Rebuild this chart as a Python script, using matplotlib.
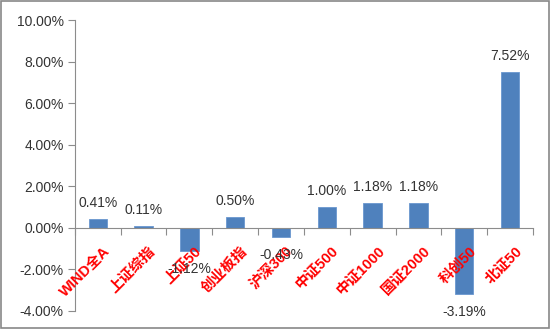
import matplotlib.pyplot as plt
from matplotlib.patches import Rectangle
from matplotlib.transforms import ScaledTranslation
import numpy as np

# index names and weekly change (%)
names = ['WIND全A', '上证综指', '上证50', '创业板指', '沪深300',
         '中证500', '中证1000', '国证2000', '科创50', '北证50']
changes = [0.41, 0.11, -1.12, 0.50, -0.43, 1.00, 1.18, 1.18, -3.19, 7.52]
y_ticks = [-4, -2, 0, 2, 4, 6, 8, 10]

fig = plt.figure(figsize=(5.5, 3.29), dpi=100)
ax = fig.add_axes([0.136, 0.055, 0.833, 0.884])

x = np.arange(len(names))
ax.bar(x, changes, width=0.4, color='#4F81BD', edgecolor='#6A97CF', linewidth=0.6, zorder=2)

ax.set_xlim(-0.5, len(names) - 0.5)
ax.set_ylim(-4, 10)
ax.set_yticks(y_ticks)
ax.set_yticklabels([f'{v:.2f}%' for v in y_ticks], fontsize=10,
                   family='Liberation Sans', color='#333333')

# axis lines: y on the left, x through zero
for side in ['top', 'right']:
    ax.spines[side].set_visible(False)
ax.spines['left'].set_color('#8C8C8C')
ax.spines['bottom'].set_color('#8C8C8C')
ax.spines['bottom'].set_position(('data', 0))
ax.tick_params(axis='y', length=5, color='#8C8C8C', pad=3)
ax.set_xticks(np.arange(len(names) + 1) - 0.5)
ax.set_xticklabels([])
ax.tick_params(axis='x', length=5, color='#8C8C8C', direction='out')

# category names, rotated under the zero line
for i, name in enumerate(names):
    off = ScaledTranslation(10 / 100, -21 / 100, fig.dpi_scale_trans)
    ax.text(i, 0, name, transform=ax.transData + off, rotation=45,
            rotation_mode='anchor', ha='right', va='center',
            color='#FF0000', fontsize=10.5, fontweight='bold',
            family=['Liberation Sans', 'Noto Sans CJK SC'], zorder=3)

# value labels
for i, v in enumerate(changes):
    dy = 9 / 100 if v >= 0 else -11 / 100
    off = ScaledTranslation(0, dy, fig.dpi_scale_trans)
    ax.text(i, v, f'{v:.2f}%', transform=ax.transData + off,
            ha='center', va='bottom' if v >= 0 else 'top',
            fontsize=10, family='Liberation Sans', color='#333333', zorder=4)

# outer frame of the chart
fig.patches.append(Rectangle((0.002, 0.003), 0.996, 0.994, transform=fig.transFigure,
                             fill=False, edgecolor='#878787', linewidth=1.2))

fig.savefig('out.png', dpi=100)
